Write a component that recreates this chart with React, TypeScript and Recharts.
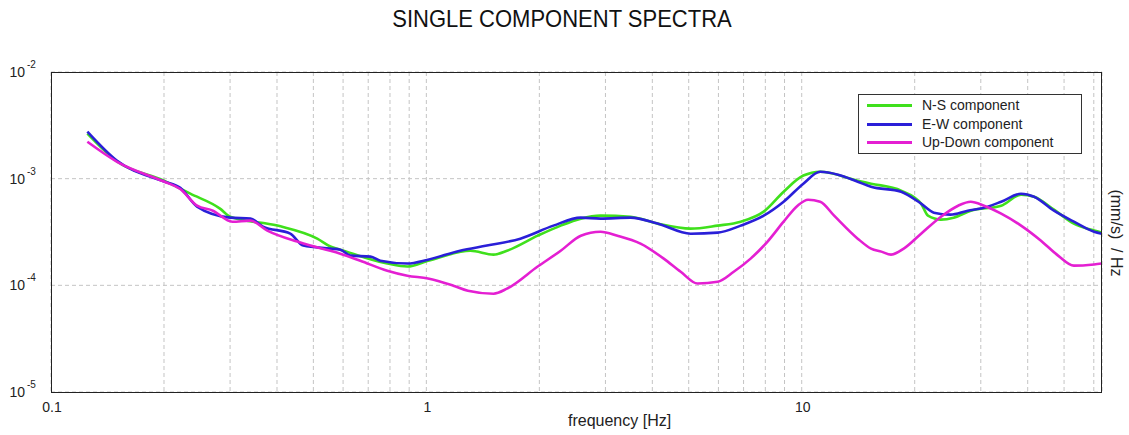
import React from 'react';
import { LineChart, Line, XAxis, YAxis, CartesianGrid } from 'recharts';

// ---- data (frequency in Hz, amplitude in (mm/s)/Hz) ----
const nsFreq = [0.125, 0.15, 0.2, 0.235, 0.282, 0.3, 0.401, 0.512, 0.555, 0.59, 0.787, 0.89, 1.01, 1.31, 1.51, 1.64, 1.98, 2.28, 2.58, 2.91, 3.5, 4.13, 5.06, 5.97, 6.88, 7.92, 8.95, 10.1, 11.2, 14.1, 15.3, 18.4, 20.8, 21.7, 23.5, 25.4, 28.2, 34.0, 38.4, 41.6, 47.0, 53.1, 60.1, 63.0];
const nsAmp = [2.64e-3, 1.45e-3, 9.58e-4, 7.23e-4, 5.24e-4, 4.4e-4, 3.63e-4, 2.74e-4, 2.31e-4, 2.16e-4, 1.6e-4, 1.5e-4, 1.7e-4, 2.11e-4, 1.94e-4, 2.11e-4, 2.92e-4, 3.63e-4, 4.22e-4, 4.5e-4, 4.4e-4, 3.79e-4, 3.4e-4, 3.63e-4, 3.95e-4, 4.91e-4, 7.55e-4, 1.07e-3, 1.16e-3, 9.58e-4, 8.98e-4, 7.72e-4, 5.83e-4, 4.5e-4, 4.13e-4, 4.31e-4, 5.01e-4, 5.58e-4, 7.08e-4, 6.77e-4, 5.12e-4, 3.79e-4, 3.26e-4, 3.12e-4];

const ewFreq = [0.125, 0.15, 0.2, 0.221, 0.245, 0.3, 0.34, 0.367, 0.434, 0.47, 0.555, 0.59, 0.627, 0.71, 0.754, 0.89, 1.01, 1.23, 1.45, 1.78, 2.18, 2.58, 2.91, 3.5, 4.13, 5.06, 5.97, 6.88, 7.92, 8.95, 10.1, 11.2, 12.5, 14.1, 15.3, 18.4, 20.8, 22.5, 24.9, 27.7, 30.0, 34.0, 38.4, 41.6, 47.0, 53.1, 60.1, 63.0];
const ewAmp = [2.76e-3, 1.47e-3, 9.4e-4, 8.2e-4, 5.47e-4, 4.31e-4, 4.22e-4, 3.55e-4, 3.05e-4, 2.36e-4, 2.21e-4, 2.16e-4, 1.9e-4, 1.86e-4, 1.7e-4, 1.6e-4, 1.74e-4, 2.11e-4, 2.36e-4, 2.74e-4, 3.63e-4, 4.31e-4, 4.22e-4, 4.31e-4, 3.79e-4, 3.05e-4, 3.12e-4, 3.63e-4, 4.5e-4, 6.08e-4, 8.98e-4, 1.16e-3, 1.09e-3, 9.37e-4, 8.41e-4, 7.55e-4, 5.83e-4, 4.8e-4, 4.6e-4, 5.01e-4, 5.24e-4, 6.08e-4, 7.23e-4, 6.77e-4, 5.01e-4, 3.95e-4, 3.18e-4, 3.05e-4];

const udFreq = [0.125, 0.15, 0.2, 0.221, 0.245, 0.27, 0.304, 0.34, 0.377, 0.453, 0.491, 0.555, 0.59, 0.667, 0.787, 0.89, 1.01, 1.18, 1.29, 1.51, 1.64, 1.98, 2.28, 2.58, 2.91, 3.23, 3.72, 4.29, 4.76, 5.28, 5.97, 6.59, 7.31, 8.11, 8.95, 9.75, 10.4, 11.2, 12.2, 14.1, 15.3, 16.3, 17.3, 18.7, 20.8, 23.5, 26.1, 28.2, 30.6, 34.0, 38.4, 43.4, 48.2, 53.1, 60.1, 63.0];
const udAmp = [2.22e-3, 1.44e-3, 9.4e-4, 8.0e-4, 5.58e-4, 5.01e-4, 3.95e-4, 4.04e-4, 3.26e-4, 2.57e-4, 2.36e-4, 2.11e-4, 1.98e-4, 1.7e-4, 1.37e-4, 1.23e-4, 1.16e-4, 9.93e-5, 8.91e-5, 8.35e-5, 9.31e-5, 1.5e-4, 2.11e-4, 2.92e-4, 3.18e-4, 2.92e-4, 2.46e-4, 1.78e-4, 1.34e-4, 1.04e-4, 1.08e-4, 1.34e-4, 1.78e-4, 2.57e-4, 3.95e-4, 5.58e-4, 6.35e-4, 6.08e-4, 4.5e-4, 2.74e-4, 2.21e-4, 2.07e-4, 1.94e-4, 2.21e-4, 3.05e-4, 4.4e-4, 5.58e-4, 6.08e-4, 5.58e-4, 4.7e-4, 3.63e-4, 2.62e-4, 1.9e-4, 1.53e-4, 1.57e-4, 1.6e-4];

const xTicks = [0.1, 0.2, 0.3, 0.4, 0.5, 0.6, 0.7, 0.8, 0.9, 1, 2, 3, 4, 5, 6, 7, 8, 9, 10, 20, 30, 40, 50, 60];
const xLabels: Record<string, string> = { '0.1': '0.1', '1': '1', '10': '10' };
const yTicks = [1e-5, 1e-4, 1e-3, 1e-2];

const seriesNames = ['N-S component', 'E-W component', 'Up-Down component'];
const seriesColors = ['#3fe01c', '#2a1fd8', '#e41fd2'];

const toRows = (fs: number[], vs: number[]) => fs.map((f, i) => ({ f, v: vs[i] }));
const seriesData = [toRows(nsFreq, nsAmp), toRows(ewFreq, ewAmp), toRows(udFreq, udAmp)];

const FONT = '"Liberation Sans", Arial, Helvetica, sans-serif';

const XTick = (props: any) => {
  const { x, y, payload } = props;
  const key = String(payload.value);
  const label = xLabels[key];
  if (!label) return null;
  return (
    <text x={x + 1} y={y + 20} textAnchor="middle" fontSize={14} fontFamily={FONT} fill="#222">
      {label}
    </text>
  );
};

const YTick = (props: any) => {
  const { x, y, payload } = props;
  const exp = Math.round(Math.log10(payload.value));
  return (
    <g>
      <text x={x - 26} y={y + 5} textAnchor="end" fontSize={14} fontFamily={FONT} fill="#222">
        10
      </text>
      <text x={x - 24} y={y - 4} textAnchor="start" fontSize={10} fontFamily={FONT} fill="#222">
        {String(exp)}
      </text>
    </g>
  );
};

export default function App() {
  return (
    <div style={{ position: 'absolute', left: 0, top: 0, width: 1129, height: 435, background: '#fff', fontFamily: FONT }}>
      <LineChart width={1129} height={435} margin={{ top: 72, right: 27, bottom: 0, left: 0 }}>
        <CartesianGrid stroke="#c4c4c4" strokeDasharray="4 3" />
        <XAxis
          dataKey="f"
          type="number"
          scale="log"
          domain={[0.1, 63.1]}
          allowDataOverflow
          ticks={xTicks}
          interval={0}
          height={43}
          tickSize={0}
          tickMargin={0}
          tickLine={false}
          axisLine={false}
          tick={<XTick />}
        />
        <YAxis
          type="number"
          scale="log"
          domain={[1e-5, 1e-2]}
          allowDataOverflow
          ticks={yTicks}
          interval={0}
          width={51}
          tickSize={0}
          tickMargin={0}
          tickLine={false}
          axisLine={false}
          tick={<YTick />}
        />
        {seriesData.map((d, i) => (
          <Line
            key={seriesNames[i]}
            data={d}
            dataKey="v"
            name={seriesNames[i]}
            type="monotone"
            stroke={seriesColors[i]}
            strokeWidth={2.6}
            dot={false}
            activeDot={false}
            isAnimationActive={false}
          />
        ))}
      </LineChart>

      {/* plot frame */}
      <div style={{ position: 'absolute', left: 51, top: 72, width: 1051, height: 321, boxSizing: 'border-box', border: '1px solid #222', pointerEvents: 'none' }} />

      {/* title */}
      <div style={{ position: 'absolute', left: 362, top: 8, width: 400, textAlign: 'center', fontSize: 22, lineHeight: '22px', color: '#111', transform: 'scaleY(1.1)', whiteSpace: 'nowrap' }}>
        SINGLE COMPONENT SPECTRA
      </div>

      {/* x axis title */}
      <div style={{ position: 'absolute', left: 568, top: 413, fontSize: 16, lineHeight: '16px', color: '#222', whiteSpace: 'nowrap' }}>
        frequency [Hz]
      </div>

      {/* y axis title (right side, rotated) */}
      <div style={{ position: 'absolute', left: 1116, top: 233, fontSize: 16, lineHeight: '16px', color: '#222', whiteSpace: 'pre', transform: 'translate(-50%, -50%) rotate(90deg)' }}>
        {'(mm/s)  / Hz'}
      </div>

      {/* legend */}
      <div style={{ position: 'absolute', left: 858, top: 94, width: 224, height: 60, boxSizing: 'border-box', border: '1px solid #333', background: '#fff' }}>
        {seriesNames.map((n, i) => (
          <div key={n} style={{ position: 'absolute', left: 0, top: 2 + i * 18.5, height: 17, width: 222 }}>
            <div style={{ position: 'absolute', left: 8, top: 7, width: 45, height: 3, background: seriesColors[i] }} />
            <div style={{ position: 'absolute', left: 63, top: 0, fontSize: 14, lineHeight: '17px', color: '#222', whiteSpace: 'nowrap' }}>{n}</div>
          </div>
        ))}
      </div>
    </div>
  );
}
